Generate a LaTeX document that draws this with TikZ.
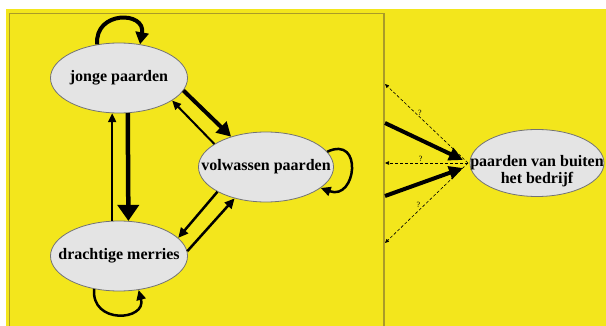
\documentclass[tikz,border=0pt]{standalone}
\usepackage{fontspec}
\setmainfont{Liberation Serif}
\usetikzlibrary{positioning, arrows.meta, shapes.geometric, calc}
\usepackage{xcolor}
\definecolor{geel}{RGB}{243,230,28}
\definecolor{rand}{RGB}{170,155,40}
\definecolor{ovaal}{RGB}{228,228,228}

\begin{document}
\begin{tikzpicture}[x=1pt, y=1pt,
  every node/.style={font=\fontsize{16}{17}\selectfont\bfseries},
  every label/.style={align=center, inner sep=0pt},
  groep/.style={ellipse, draw=black!55, line width=0.8pt, fill=ovaal, inner sep=0pt,
    minimum width=137pt, minimum height=70pt},
  dik/.style={line width=4.5pt, -{Triangle[length=16pt, width=21pt]}},
  halfdik/.style={line width=4pt, -{Triangle[length=14pt, width=15pt]}},
  mid/.style={line width=2.5pt, -{Triangle[length=10pt, width=9pt]}},
  dun/.style={line width=2pt, -{Triangle[length=9pt, width=8pt]}},
  vraag/.style={line width=0.6pt, dash pattern=on 3pt off 2pt, -{Triangle[length=4pt, width=3.5pt]}},
  vr/.style={font=\fontsize{8}{9}\selectfont, inner sep=1pt},
]
\useasboundingbox (0,0) rectangle (606,-326);
\fill[white] (0,0) rectangle (606,-326);
\fill[geel] (6,-9) rectangle (606,-326);
\draw[rand, line width=1.5pt] (9.5,-330) |- (384,-13.5) -- (384,-330);

\node[groep, label=center:{jonge paarden}] (jong) at (119,-78) {};
\node[groep, label=center:{volwassen paarden}, minimum width=135pt] (volw) at (266,-167) {};
\node[groep, label=center:{drachtige merries}] (dracht) at (119,-256) {};
\node[groep, label={[yshift=-8pt]center:{paarden van buiten\\het bedrijf}}, minimum width=134pt, minimum height=67pt] (buiten) at (537,-163) {};

% tussen de groepen
\draw[dik] (jong.-76) -- (dracht.75);
\draw[dun] (dracht.101) -- (jong.-101);
\draw[halfdik] (jong.-11) -- (volw.139);
\draw[dun] (volw.156) -- (jong.-23);
\draw[mid] (volw.-153) -- (dracht.17);
\draw[mid] (dracht.4) -- (volw.-135);

% blijven in de groep
\draw[line width=4pt, -{Triangle[length=12pt, width=13pt]}] (jong.123) .. controls +(95:34) and +(80:34) .. (jong.58);
\draw[mid] (volw.14) .. controls +(25:40) and +(-20:38) .. (volw.-21);
\draw[mid] (dracht.-127) .. controls +(-95:36) and +(-75:32) .. (dracht.-60);

% van en naar buiten
\coordinate (hub) at (468,-163);
\coordinate (r1) at (385,-84);
\coordinate (r2) at (385,-123);
\coordinate (r3) at (385,-163);
\coordinate (r4) at (385,-196);
\coordinate (r5) at (385,-243);
\coordinate (in1) at (463,-160);
\coordinate (in2) at (463,-168);
\draw[vraag] (hub) -- node[vr, pos=.58, above]{?} (r1);
\draw[vraag] (hub) -- node[vr, pos=.57, above]{?} (r3);
\draw[vraag] (hub) -- node[vr, pos=.57, above left=-1pt]{?} (r5);
\draw[line width=4pt, -{Triangle[length=14pt, width=13pt]}] (r2) -- (in1);
\draw[line width=4pt, -{Triangle[length=14pt, width=13pt]}] (r4) -- (in2);
\end{tikzpicture}
\end{document}
